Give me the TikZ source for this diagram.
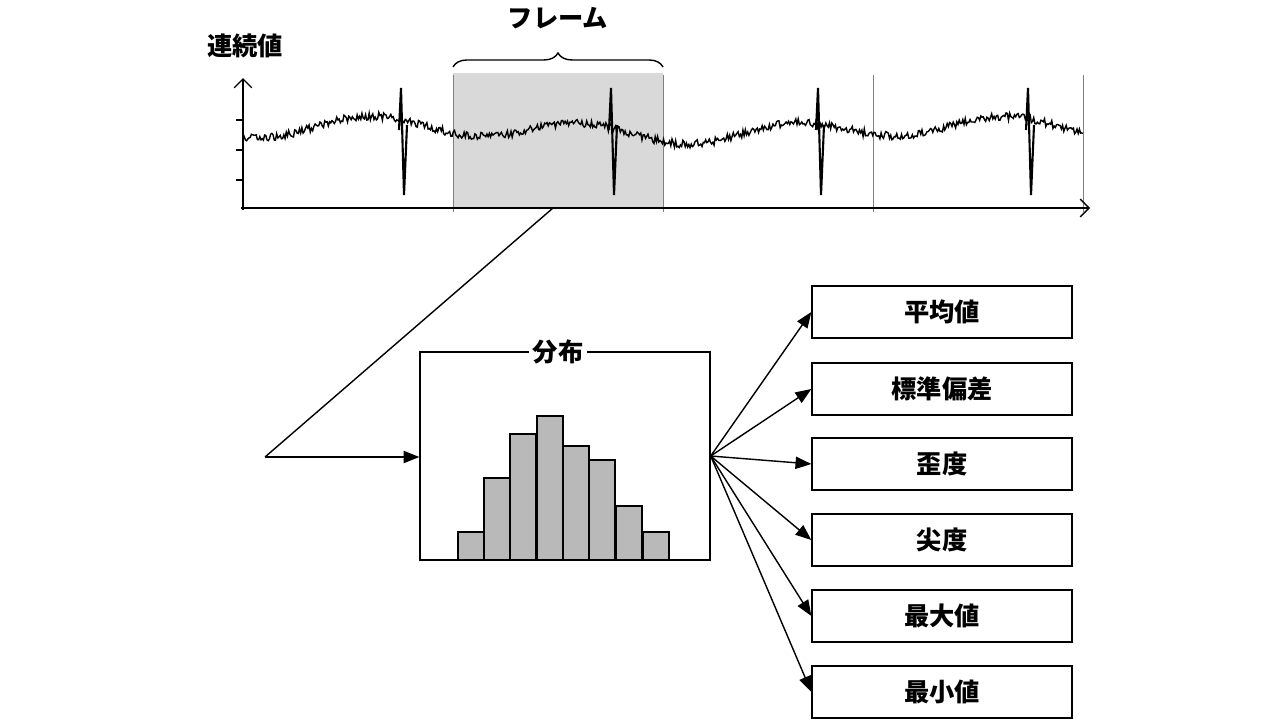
\documentclass[tikz,border=0pt]{standalone}
\usepackage{fontspec}
\newfontfamily\cjk{Noto Sans CJK JP}
\usetikzlibrary{arrows.meta,decorations.pathreplacing}

\begin{document}
\begin{tikzpicture}[x=0.02cm,y=-0.02cm,font=\cjk]
            \tikzset{statbox/.style = {draw, thick, minimum width=5.2cm, minimum height=1.04cm, font=\cjk\Large\bfseries}}
            \tikzset{edge/.style = {-{Triangle[length=9pt,width=7pt]}, thick}}
            \tikzset{bar/.style = {draw, thick, fill=gray!55}}
            \useasboundingbox (0,0) rectangle (1284,724);
            
            % signal
            \fill[gray!30] (453,73) rectangle (663,208);
            \foreach \x in {453,663,873,1083} {\draw[gray] (\x,75) -- (\x,212);}
            \draw[thick, -{Straight Barb[length=5pt]}] (243,210) -- (243,78);
            \draw[thick, -{Straight Barb[length=5pt]}] (241,208) -- (1090,208);
            \foreach \y in {120,150,180} {\draw[thick] (236,\y) -- (243,\y);}
            \pgfmathsetseed{7}
            \draw[line width=0.8pt] plot[domain=243:1083, samples=700]
              (\x, {130+9*sin(1.7*\x)+5*sin(0.6*\x+40)+8*rnd-4});
            \foreach \s in {403,613,820,1030}
            {
              \draw[line width=1.2pt] (\s-4,130) -- (\s-2,88) -- (\s+1,195) -- (\s+4,125);
            }
            \node (ylabel) at (245,46) {\Large\bfseries 連続値};
            \draw[thick, decorate, decoration={brace, amplitude=8pt}] (453,67) -- (663,67);
            \node (frame) at (558,18) {\Large\bfseries フレーム};
            \coordinate (framebot) at (553,208);
            \coordinate (corner) at (265,457);
            
            % distribution
            \node[draw, thick, minimum width=5.8cm, minimum height=4.16cm] (dist) at (565,456) {};
            \node[fill=white, inner sep=2pt] (distlabel) at (558,352) {\Large\bfseries 分布};
            \foreach \l/\t in {458/532,484/478,510/434,537/416,563/446,589/460,616/506,643/532}
            {
              \draw[bar] (\l,560) rectangle (\l+26,\t);
            }
            \draw[thick] (framebot) -- (corner);
            \draw[edge] (corner) -- (dist.west |- corner);
            
            % statistics
            \foreach \n/\y/\t in {1/312/平均値,2/389/標準偏差,3/464/歪度,4/540/尖度,5/616/最大値,6/692/最小値}
            {
              \node[statbox] (s\n) at (942,\y) {\t};
              \draw[edge] (dist.east) -- (s\n.west);
            }
            
          \end{tikzpicture}
\end{document}
